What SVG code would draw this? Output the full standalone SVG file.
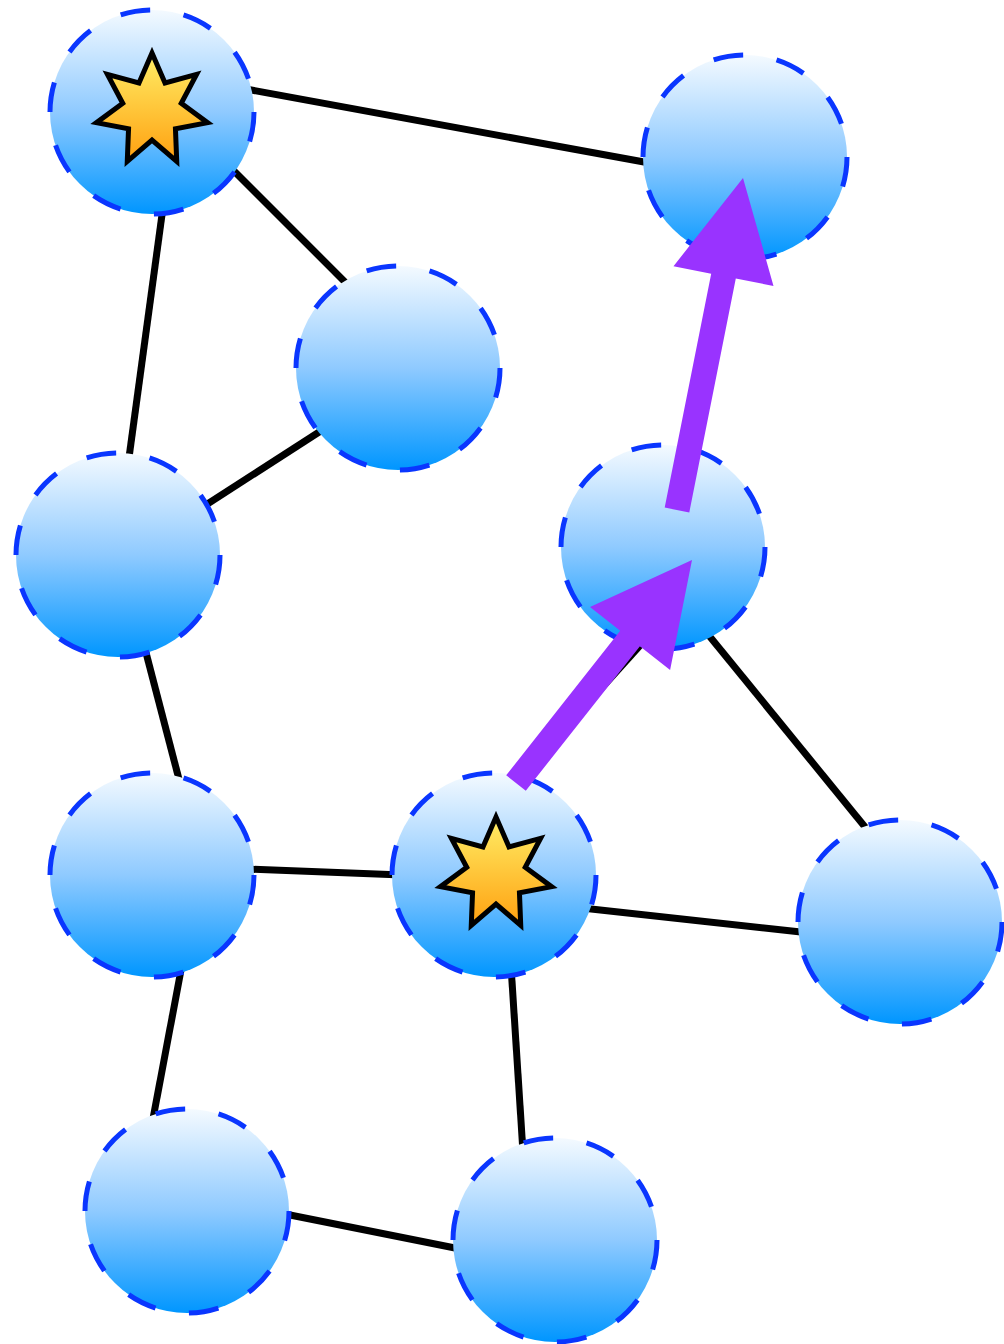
<svg xmlns="http://www.w3.org/2000/svg" width="1004" height="1344" viewBox="0 0 1004 1344">
<defs>
<linearGradient id="ng" x1="0" y1="0" x2="0" y2="1">
<stop offset="0" stop-color="#f4faff"/>
<stop offset="0.5" stop-color="#8fcaff"/>
<stop offset="1" stop-color="#0096ff"/>
</linearGradient>
<linearGradient id="sg" x1="0" y1="0" x2="0" y2="1">
<stop offset="0" stop-color="#ffee66"/>
<stop offset="1" stop-color="#ffa010"/>
</linearGradient>
<polygon id="star" points="0,-57 13.02,-27.03 44.56,-35.54 29.25,-6.68 55.57,12.68 23.45,18.71 24.73,51.36 0,30 -24.73,51.36 -23.45,18.71 -55.57,12.68 -29.25,-6.68 -44.56,-35.54 -13.02,-27.03"/>
</defs>
<style>
.edge{stroke:#000;stroke-width:7;fill:none}
.node circle{fill:url(#ng);stroke:#0a36ff;stroke-width:5;stroke-dasharray:30 34}
.st{fill:url(#sg);stroke:#000;stroke-width:5;stroke-miterlimit:10}
.arrow{fill:#9933ff}
</style>
<g id="edges">
<line class="edge" x1="240" y1="88" x2="655" y2="164"/>
<line class="edge" x1="225" y1="162" x2="355" y2="292"/>
<line class="edge" x1="164" y1="200" x2="128" y2="465"/>
<line class="edge" x1="330" y1="425" x2="195" y2="512"/>
<line class="edge" x1="144" y1="645" x2="181" y2="787"/>
<line class="edge" x1="245" y1="869" x2="402" y2="875"/>
<line class="edge" x1="582" y1="908" x2="810" y2="933"/>
<line class="edge" x1="702" y1="627" x2="874" y2="838"/>
<line class="edge" x1="188" y1="933" x2="152" y2="1124"/>
<line class="edge" x1="509" y1="935" x2="523" y2="1152"/>
<line class="edge" x1="280" y1="1213" x2="465" y2="1250"/>
<line class="edge" x1="516" y1="783" x2="655" y2="629"/>
</g>
<g id="n1" class="node"><circle cx="152" cy="112" r="102"/><use href="#star" class="st" x="152" y="110"/></g>
<g id="n2" class="node"><circle cx="745" cy="157" r="102"/></g>
<g id="n3" class="node"><circle cx="398" cy="368" r="102"/></g>
<g id="n4" class="node"><circle cx="118" cy="555" r="102"/></g>
<g id="n5" class="node"><circle cx="663" cy="547" r="102"/></g>
<g id="n6" class="node"><circle cx="152" cy="875" r="102"/></g>
<g id="n7" class="node"><circle cx="494" cy="875" r="102"/><use href="#star" class="st" x="496" y="874"/></g>
<g id="n8" class="node"><circle cx="900" cy="922" r="102"/></g>
<g id="n9" class="node"><circle cx="187" cy="1211" r="102"/></g>
<g id="n10" class="node"><circle cx="555" cy="1240" r="102"/></g>
<g id="arrows">
<polygon class="arrow" points="506.2,775.3 620.2,630.7 590,606.9 692,560 670.1,670.1 639.9,646.2 525.8,790.7"/>
<polygon class="arrow" points="664.7,507.6 711.2,273.7 673.5,266.2 743,178 773.5,286 735.8,278.5 689.3,512.4"/>
</g>
</svg>
